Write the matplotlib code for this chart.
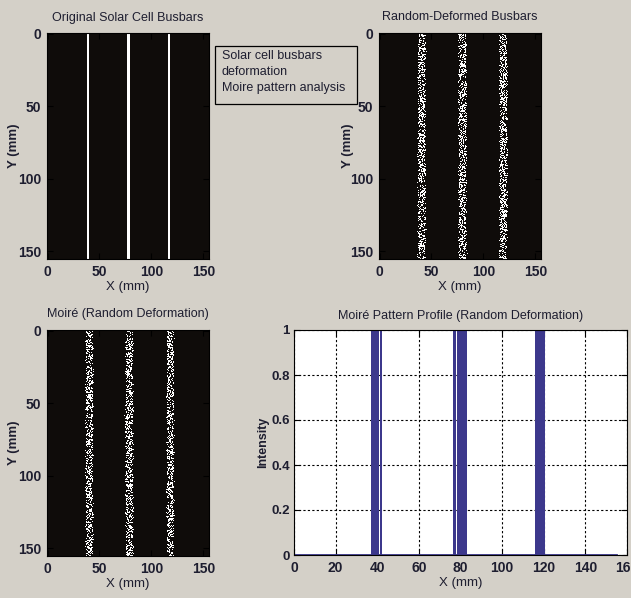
import numpy as np
import matplotlib.pyplot as plt
from matplotlib.patches import Rectangle

plt.rcParams['font.family'] = ['Liberation Sans Narrow', 'Liberation Sans', 'DejaVu Sans']

# image size (mm) and busbar positions
size_mm = 156
busbar_x = [39, 78, 117]
busbar_w = 1.6
# centres / half widths of the deformed bands
deformed_x = [40.8, 80, 119.5]
deformed_half = [3.4, 3.6, 3.4]
moire_x = [40.5, 79, 118.5]
moire_half = [3.2, 3.4, 3.0]
speckle_fill = 0.45

# profile: x positions (mm) where the line jumps to 1
spikes = [37.5, 37.9, 38.3, 38.7, 39.1, 39.5, 39.9, 40.3, 40.6, 42.0,
          77.1, 77.5, 78.9, 79.3, 79.7, 80.1, 80.5, 80.9, 81.3, 81.7, 82.1, 82.5,
          116.2, 117.3, 117.7, 118.1, 118.5, 118.9, 119.3, 119.7, 120.1]
profile_end = 155

x_ticks_img = [0, 50, 100, 150]
x_ticks_prof = [0, 20, 40, 60, 80, 100, 120, 140, 160]
y_ticks_prof = [0, 0.2, 0.4, 0.6, 0.8, 1]

bg = '#d4d0c8'
dark = '#0f0c0a'
txt = '#1e1e30'
line_col = '#3c388c'

fig = plt.figure(figsize=(6.31, 5.98), dpi=100, facecolor=bg)

W, H = 631, 598
def box(l, t, r, b):
    return [l / W, 1 - b / H, (r - l) / W, (b - t) / H]

ax1 = fig.add_axes(box(47, 33, 209, 259))
ax2 = fig.add_axes(box(379, 33, 541, 259))
ax3 = fig.add_axes(box(47, 330, 209, 556))
ax4 = fig.add_axes(box(294, 330, 627, 555))

res = 2
n = size_mm * res
xs = (np.arange(n) + 0.5) / res - 0.5

# original busbars image
orig = np.zeros((n, n))
for c in busbar_x:
    orig[:, np.abs(xs - c) < busbar_w / 2] = 1

# speckle texture for deformed bands (texture only, seeded)
rng = np.random.default_rng(3)
def speckled(centres, halves):
    img = np.zeros((n, n))
    for c, h in zip(centres, halves):
        for row in range(n):
            shift = rng.normal(0, 0.5)
            m = np.abs(xs - c - shift) < h
            img[row, m] = rng.random(m.sum()) < speckle_fill
    return img

cmap = plt.matplotlib.colors.ListedColormap([dark, '#ffffff'])
ext = (-0.5, size_mm - 0.5, size_mm - 0.5, -0.5)
ax1.imshow(orig, cmap=cmap, extent=ext, aspect='auto', interpolation='nearest')
ax2.imshow(speckled(deformed_x, deformed_half), cmap=cmap, extent=ext, aspect='auto', interpolation='nearest')
ax3.imshow(speckled(moire_x, moire_half), cmap=cmap, extent=ext, aspect='auto', interpolation='nearest')

titles = ['Original Solar Cell Busbars', 'Random-Deformed Busbars', 'Moiré (Random Deformation)']
ylab_x = [-0.165, -0.155, -0.165]
for ax, t, lx in zip([ax1, ax2, ax3], titles, ylab_x):
    ax.set_xticks(x_ticks_img)
    ax.set_yticks(x_ticks_img)
    ax.set_title(t, fontsize=9, color=txt, pad=9)
    ax.set_xlabel('X (mm)', fontsize=9.5, color=txt, labelpad=2)
    ax.set_ylabel('Y (mm)', fontsize=9.5, color=txt, fontweight='bold')
    ax.yaxis.set_label_coords(lx, 0.5)

# profile
px = [0]
py = [0]
for s in spikes:
    px += [s, s, s]
    py += [0, 1, 0]
px.append(profile_end)
py.append(0)
ax4.plot(px, py, color=line_col, lw=1.3, solid_joinstyle='miter')
ax4.set_facecolor('white')
ax4.set_xlim(0, 160)
ax4.set_ylim(0, 1)
ax4.set_xticks(x_ticks_prof)
ax4.set_yticks(y_ticks_prof)
ax4.set_yticklabels(['0', '0.2', '0.4', '0.6', '0.8', '1'])
ax4.grid(True, color='black', linestyle=(0, (2, 2)), linewidth=0.8)
ax4.set_title('Moiré Pattern Profile (Random Deformation)', fontsize=9, color=txt, pad=8)
ax4.set_xlabel('X (mm)', fontsize=9.5, color=txt, labelpad=2)
ax4.set_ylabel('Intensity', fontsize=9, color=txt, fontweight='bold')
ax4.yaxis.set_label_coords(-0.074, 0.5)

for ax in [ax1, ax2, ax3, ax4]:
    ax.tick_params(direction='in', length=4, top=True, right=True, labelsize=10,
                   labelcolor=txt, pad=4)
    for sp in ax.spines.values():
        sp.set_color('black')
        sp.set_linewidth(0.8)
ax4.tick_params(axis='y', labelsize=9.5, pad=3)
for ax in [ax1, ax2, ax3, ax4]:
    for lab in ax.get_xticklabels() + ax.get_yticklabels():
        lab.set_fontweight('bold')

# annotation box
fig.patches.append(Rectangle((215 / W, 1 - 104 / H), 142 / W, 58 / H,
                             transform=fig.transFigure, fill=False,
                             edgecolor='black', linewidth=0.9))
fig.text(222 / W, 1 - 50 / H, 'Solar cell busbars\ndeformation\nMoire pattern analysis',
         fontsize=9, color=txt, va='top', ha='left', linespacing=1.45)

fig.savefig('out.png', dpi=100, facecolor=bg)
